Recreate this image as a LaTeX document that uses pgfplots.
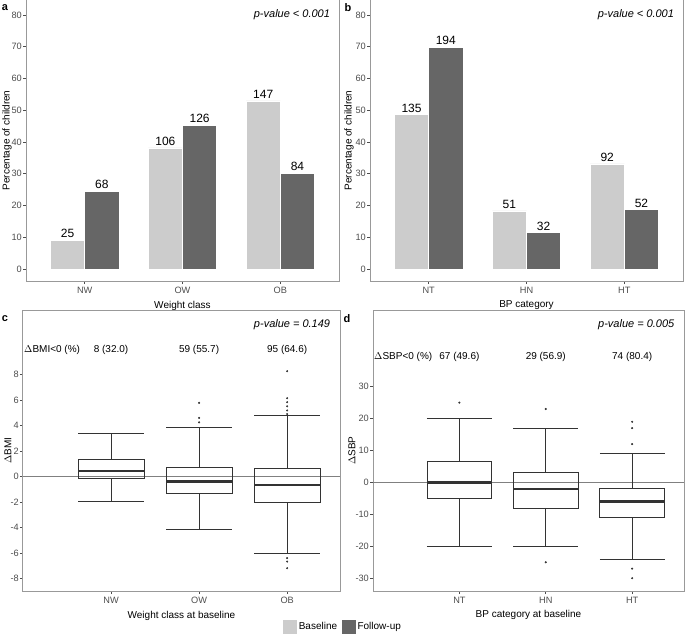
\documentclass[border=0pt]{standalone}
\usepackage{pgfplots}
\pgfplotsset{compat=1.18}
\usepgfplotslibrary{statistics}
\usepackage{fontspec}
\setmainfont{Liberation Sans}
\definecolor{base}{HTML}{CCCCCC}
\definecolor{foll}{HTML}{666666}
\definecolor{framec}{HTML}{999999}
\definecolor{tickc}{HTML}{4D4D4D}
\definecolor{boxc}{HTML}{333333}

\pgfplotstableread{
x y n
0 9.0 25
1 38.1 106
2 52.9 147
}\abase
\pgfplotstableread{
x y n
0 24.5 68
1 45.3 126
2 30.2 84
}\afoll
\pgfplotstableread{
x y n
0 48.6 135
1 18.3 51
2 33.1 92
}\bbase
\pgfplotstableread{
x y n
0 69.8 194
1 11.5 32
2 18.7 52
}\bfoll

\pgfplotsset{
  common/.style={
    scale only axis,
    axis line style={framec, line width=1bp},
    tick style={tickc, line width=0.7bp},
    tick align=outside, major tick length=3bp,
    xtick pos=bottom, ytick pos=left,
    tick label style={font=\fontsize{9.2bp}{11bp}\selectfont, text=tickc},
    yticklabel style={inner sep=1bp},
    label style={font=\fontsize{10bp}{12bp}\selectfont},
    /pgf/number format/assume math mode=true,
    axis background/.style={fill=white},
  },
  barax/.style={
    common, width=313bp, height=281bp,
    xmin=-0.6, xmax=2.6, ymin=-3.8, ymax=84.7,
    xtick={0,1,2}, ytick={0,10,...,80},
    ylabel={Percentage of children},
    ybar, bar width=0.35,
    nodes near coords, point meta=explicit symbolic,
    nodes near coords style={font=\fontsize{12bp}{14bp}\selectfont, inner sep=2bp},
  },
  boxax/.style={
    common, height=281bp,
    xmin=0, xmax=3.6, xtick={1,2,3},
    boxplot/draw direction=y,
    boxplot/every median/.style={line width=2.2bp},
  },
  bx/.style={boxc, line width=0.9bp, forget plot},
  outl/.style={only marks, mark=*, mark size=0.8bp, boxc, forget plot},
}

\begin{document}
\begin{tikzpicture}
\useasboundingbox (0,0) rectangle (685bp,-635bp);

% ---------------- panel a
\begin{axis}[barax, at={(26bp,-281bp)}, anchor=south west,
  xticklabels={NW,OW,OB}, xlabel={Weight class},
  ylabel style={at={(axis description cs:0,0.5)}, anchor=center, yshift=19bp}]
\addplot[fill=base, draw=white, line width=0.6bp, bar shift=-0.175] table[x=x, y=y, meta=n] {\abase};
\addplot[fill=foll, draw=white, line width=0.6bp, bar shift=0.175] table[x=x, y=y, meta=n] {\afoll};
\node[anchor=east, font=\itshape\fontsize{11bp}{13bp}\selectfont, inner sep=0pt] at (axis cs:2.51,80) {p-value < 0.001};
\end{axis}

% ---------------- panel b
\begin{axis}[barax, at={(370bp,-281bp)}, anchor=south west,
  xticklabels={NT,HN,HT}, xlabel={BP category},
  ylabel style={at={(axis description cs:0,0.5)}, anchor=center, yshift=21bp}]
\addplot[fill=base, draw=white, line width=0.6bp, bar shift=-0.175] table[x=x, y=y, meta=n] {\bbase};
\addplot[fill=foll, draw=white, line width=0.6bp, bar shift=0.175] table[x=x, y=y, meta=n] {\bfoll};
\node[anchor=east, font=\itshape\fontsize{11bp}{13bp}\selectfont, inner sep=0pt] at (axis cs:2.51,80) {p-value < 0.001};
\end{axis}

% ---------------- panel c
\begin{axis}[boxax, at={(23bp,-591bp)}, anchor=south west, width=317bp,
  ymin=-8.98, ymax=13.06, ytick={-8,-6,...,8},
  xticklabels={NW,OW,OB}, xlabel={Weight class at baseline}, ylabel={$\Delta$BMI},
  ylabel style={at={(axis description cs:0,0.5)}, anchor=center, yshift=15bp},
  legend style={at={(1.01,-0.126)}, anchor=center, draw=none, fill=none,
    legend columns=2, font=\fontsize{10bp}{12bp}\selectfont,
    /tikz/every even column/.append style={column sep=3bp}},
  ]
\addplot[gray, line width=0.7bp, forget plot] coordinates {(0,0) (3.6,0)};
\addplot[bx, boxplot prepared={draw position=1, lower whisker=-1.94, lower quartile=-0.18, median=0.42, upper quartile=1.31, upper whisker=3.35, box extend=0.75, whisker extend=0.75}] coordinates {};
\addplot[bx, boxplot prepared={draw position=2, lower whisker=-4.18, lower quartile=-1.36, median=-0.39, upper quartile=0.68, upper whisker=3.82, box extend=0.75, whisker extend=0.75}] coordinates {};
\addplot[bx, boxplot prepared={draw position=3, lower whisker=-6.06, lower quartile=-2.01, median=-0.65, upper quartile=0.65, upper whisker=4.78, box extend=0.75, whisker extend=0.75}] coordinates {};
\addplot[outl] coordinates {(2,5.78) (2,4.6) (2,4.25) (3,8.26) (3,6.14) (3,5.83) (3,5.51) (3,5.18) (3,4.9) (3,-6.4) (3,-6.67) (3,-7.19)};
\node[anchor=west, inner sep=1bp, font=\fontsize{10bp}{12bp}\selectfont] at (axis cs:0,9.9) {$\Delta$BMI<0 (\%)};
\node[font=\fontsize{10bp}{12bp}\selectfont] at (axis cs:1,9.9) {8 (32.0)};
\node[font=\fontsize{10bp}{12bp}\selectfont] at (axis cs:2,9.9) {59 (55.7)};
\node[font=\fontsize{10bp}{12bp}\selectfont] at (axis cs:3,9.9) {95 (64.6)};
\node[anchor=east, font=\itshape\fontsize{11bp}{13bp}\selectfont, inner sep=0pt] at (axis cs:3.49,11.9) {p-value = 0.149};
\addlegendimage{legend image code/.code={\fill[base] (0bp,-6.5bp) rectangle (13bp,6.5bp);}}
\addlegendentry{Baseline}
\addlegendimage{legend image code/.code={\fill[foll] (0bp,-6.5bp) rectangle (13bp,6.5bp);}}
\addlegendentry{Follow-up}
\end{axis}

% ---------------- panel d
\begin{axis}[boxax, at={(373bp,-591bp)}, anchor=south west, width=311bp,
  ymin=-34, ymax=54, ytick={-30,-20,...,30},
  xticklabels={NT,HN,HT}, xlabel={BP category at baseline}, ylabel={$\Delta$SBP},
  ylabel style={at={(axis description cs:0,0.5)}, anchor=center, yshift=21bp},
  ]
\addplot[gray, line width=0.7bp, forget plot] coordinates {(0,0) (3.6,0)};
\addplot[bx, boxplot prepared={draw position=1, lower whisker=-20, lower quartile=-5, median=0, upper quartile=6.5, upper whisker=20, box extend=0.75, whisker extend=0.75}] coordinates {};
\addplot[bx, boxplot prepared={draw position=2, lower whisker=-20, lower quartile=-8, median=-2, upper quartile=3, upper whisker=17, box extend=0.75, whisker extend=0.75}] coordinates {};
\addplot[bx, boxplot prepared={draw position=3, lower whisker=-24, lower quartile=-11, median=-6, upper quartile=-2, upper whisker=9, box extend=0.75, whisker extend=0.75}] coordinates {};
\addplot[outl] coordinates {(1,25) (2,23) (2,-25) (3,19) (3,17) (3,12) (3,-27) (3,-30)};
\node[anchor=west, inner sep=1bp, font=\fontsize{10bp}{12bp}\selectfont] at (axis cs:0,39.4) {$\Delta$SBP<0 (\%)};
\node[font=\fontsize{10bp}{12bp}\selectfont] at (axis cs:1,39.4) {67 (49.6)};
\node[font=\fontsize{10bp}{12bp}\selectfont] at (axis cs:2,39.4) {29 (56.9)};
\node[font=\fontsize{10bp}{12bp}\selectfont] at (axis cs:3,39.4) {74 (80.4)};
\node[anchor=east, font=\itshape\fontsize{11bp}{13bp}\selectfont, inner sep=0pt] at (axis cs:3.49,49.4) {p-value = 0.005};
\end{axis}

% panel letters
\node[font=\bfseries\fontsize{11bp}{13bp}\selectfont, inner sep=0pt] at (5bp,-8bp) {a};
\node[font=\bfseries\fontsize{11bp}{13bp}\selectfont, inner sep=0pt] at (348bp,-8bp) {b};
\node[font=\bfseries\fontsize{11bp}{13bp}\selectfont, inner sep=0pt] at (5bp,-319bp) {c};
\node[font=\bfseries\fontsize{11bp}{13bp}\selectfont, inner sep=0pt] at (347bp,-319bp) {d};
\end{tikzpicture}
\end{document}
